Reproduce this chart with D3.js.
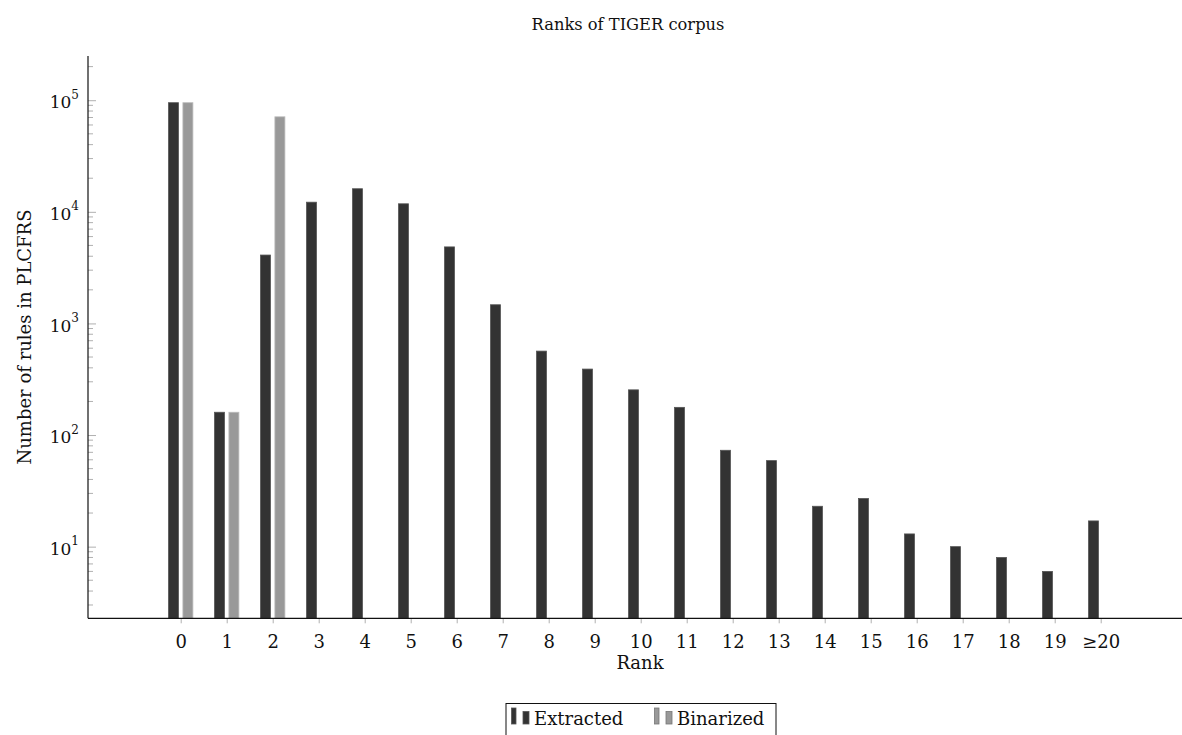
<!DOCTYPE html>
<html><head><meta charset="utf-8">
<script src="https://cdn.jsdelivr.net/npm/d3@7"></script>
<style>
body{margin:0;background:#fff;}
text{font-family:"DejaVu Serif",serif;fill:#111;}
</style></head>
<body><svg id="c" width="1182" height="735"></svg>
<script>
const categories = ["0","1","2","3","4","5","6","7","8","9","10","11","12","13","14","15","16","17","18","19","≥20"];
const extracted = [95000,160,4100,12200,16100,11800,4850,1470,565,390,254,177,73,59,23,27,13,10,8,6,17];
const binarized = [95000,160,71000,null,null,null,null,null,null,null,null,null,null,null,null,null,null,null,null,null,null];
const yMajorTicks = [10,100,1000,10000,100000];
const seriesNames = ["Extracted","Binarized"];

(function(){
const svg = d3.select("#c");
const pL = 88, pT = 56, pB = 618.3;
const x = d3.scalePoint().domain(categories).range([180.7, 1100.7]);
const y = d3.scaleLog().domain([2.28, 2.49e5]).range([pB, pT]);
const barW = 10, off = 7.2;

// minor ticks
const minor = [];
for (let e = 0; e <= 5; e++) for (let m = 2; m <= 9; m++) { const v = m * Math.pow(10, e); if (v >= y.domain()[0] && v <= y.domain()[1]) minor.push(v); }
svg.append("g").selectAll("line").data(minor).join("line")
  .attr("x1", pL).attr("x2", pL + 5).attr("y1", d => y(d)).attr("y2", d => y(d))
  .attr("stroke", "#b0b0b0").attr("stroke-width", 1);

// y axis
const yAx = svg.append("g").attr("transform", `translate(${pL},0)`)
  .call(d3.axisLeft(y).tickValues(yMajorTicks).tickSize(-8).tickPadding(9).tickFormat(() => ""));
yAx.select(".domain").remove();
yAx.selectAll(".tick line").attr("stroke", "#b0b0b0");
yAx.selectAll(".tick text").each(function(d){
  const t = d3.select(this).attr("font-size", 17).attr("dy", "0.45em");
  t.append("tspan").text("10");
  t.append("tspan").attr("font-size", 12).attr("dy", "-0.8em").text(Math.round(Math.log10(d)));
});
svg.append("line").attr("x1", pL).attr("x2", pL).attr("y1", pT).attr("y2", pB)
  .attr("stroke", "#111").attr("stroke-width", 1.2);

// bars
svg.append("g").selectAll("rect").data(extracted.map((v,i)=>({v,c:categories[i]})).filter(d=>d.v!=null)).join("rect")
  .attr("x", d => x(d.c) - off - barW/2).attr("width", barW)
  .attr("y", d => y(d.v)).attr("height", d => pB - y(d.v))
  .attr("fill", "#333").attr("stroke", "#555").attr("stroke-width", 0.8);
svg.append("g").selectAll("rect").data(binarized.map((v,i)=>({v,c:categories[i]})).filter(d=>d.v!=null)).join("rect")
  .attr("x", d => x(d.c) + off - barW/2).attr("width", barW)
  .attr("y", d => y(d.v)).attr("height", d => pB - y(d.v))
  .attr("fill", "#999").attr("stroke", "#bbb").attr("stroke-width", 0.8);

// x axis
const xAx = svg.append("g").attr("transform", `translate(0,${pB})`)
  .call(d3.axisBottom(x).tickSize(5).tickPadding(12));
xAx.select(".domain").remove();
xAx.selectAll(".tick line").attr("stroke", "#b0b0b0");
xAx.selectAll(".tick text").attr("font-size", 18);
svg.append("line").attr("x1", pL).attr("x2", 1182).attr("y1", pB).attr("y2", pB)
  .attr("stroke", "#111").attr("stroke-width", 1.2);

// labels
svg.append("text").attr("x", 628).attr("y", 29.5).attr("text-anchor", "middle").attr("font-size", 16.3).text("Ranks of TIGER corpus");
svg.append("text").attr("x", 640).attr("y", 669).attr("text-anchor", "middle").attr("font-size", 18).text("Rank");
svg.append("text").attr("transform", "translate(31,337) rotate(-90)").attr("text-anchor", "middle").attr("font-size", 18).text("Number of rules in PLCFRS");

// legend
const lg = svg.append("g");
lg.append("rect").attr("x", 506).attr("y", 703.5).attr("width", 270).attr("height", 40).attr("fill", "#fff").attr("stroke", "#111").attr("stroke-width", 1);
const items = [{name: seriesNames[0], fill: "#333", stroke: "#555", x: 511}, {name: seriesNames[1], fill: "#999", stroke: "#777", x: 654}];
items.forEach(it => {
  lg.append("rect").attr("x", it.x + 0.5).attr("y", 708).attr("width", 4.5).attr("height", 16).attr("fill", it.fill).attr("stroke", it.stroke).attr("stroke-width", 0.8);
  lg.append("rect").attr("x", it.x + 12).attr("y", 711.5).attr("width", 6).attr("height", 12.5).attr("fill", it.fill).attr("stroke", it.stroke).attr("stroke-width", 0.8);
  lg.append("text").attr("x", it.x + 23).attr("y", 724.5).attr("font-size", 18).text(it.name);
});
})();
</script></body></html>
